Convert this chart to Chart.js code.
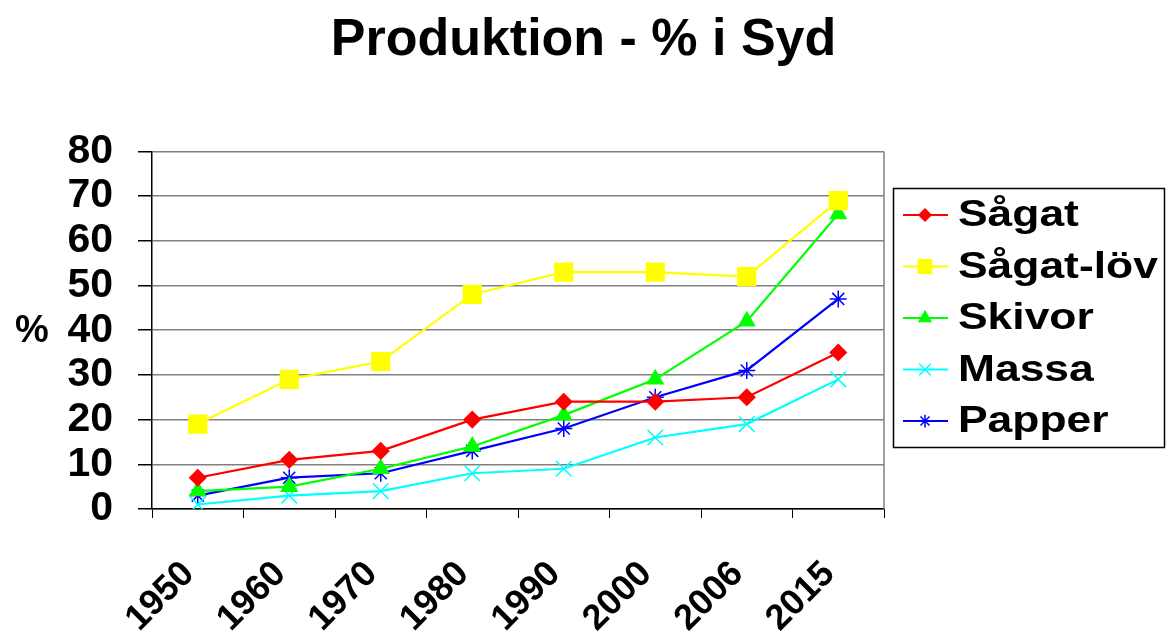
<!DOCTYPE html>
<html>
<head>
<meta charset="utf-8">
<script src="https://cdn.jsdelivr.net/npm/chart.js@4.4.1/dist/chart.umd.min.js"></script>
<style>
  html, body { margin: 0; padding: 0; background: #fff; }
  #wrap { width: 1167px; height: 632px; }
</style>
</head>
<body>
<div id="wrap"><canvas id="chart" width="1167" height="632"></canvas></div>
<script>
const years = ['1950', '1960', '1970', '1980', '1990', '2000', '2006', '2015'];
const sagat = [7, 11, 13, 20, 24, 24, 25, 35];
const sagatLov = [19, 29, 33, 48, 53, 53, 52, 69];
const skivor = [4, 5, 9, 14, 21, 29, 42, 66];
const massa = [1, 3, 4, 8, 9, 16, 19, 29];
const papper = [3, 7, 8, 13, 18, 25, 31, 47];
const yTicks = [0, 10, 20, 30, 40, 50, 60, 70, 80];

const FONT = "'Liberation Sans', Arial, sans-serif";

function series(label, data, color, style, radius) {
    return {
        label: label,
        data: data,
        borderColor: color,
        backgroundColor: color,
        pointBackgroundColor: color,
        pointBorderColor: color,
        pointStyle: style,
        pointRadius: radius,
        pointHoverRadius: radius,
        pointBorderWidth: 1.5,
        borderWidth: 2.2,
        tension: 0
    };
}

// legend with frame, "%" label and right edge of the plot
const extras = {
    id: 'extras',
    beforeDatasetsDraw(chart) {
        const a = chart.chartArea;
        const ctx = chart.ctx;
        ctx.save();
        ctx.strokeStyle = '#808080';
        ctx.lineWidth = 1.5;
        ctx.beginPath();
        ctx.moveTo(a.right, a.top);
        ctx.lineTo(a.right, a.bottom);
        ctx.stroke();
        ctx.restore();
    },
    afterDraw(chart) {
        const ctx = chart.ctx;
        ctx.save();
        ctx.fillStyle = '#000';
        ctx.font = 'bold 38px ' + FONT;
        ctx.textAlign = 'center';
        ctx.textBaseline = 'middle';
        ctx.fillText('%', 32, 332);

        ctx.strokeStyle = '#000';
        ctx.lineWidth = 1.5;
        ctx.strokeRect(893.5, 188.5, 271, 259);
        chart.data.datasets.forEach((ds, i) => {
            const y = 215 + i * 51.5;
            ctx.strokeStyle = ds.borderColor;
            ctx.fillStyle = ds.backgroundColor;
            ctx.lineWidth = 2;
            ctx.beginPath();
            ctx.moveTo(903, y);
            ctx.lineTo(948, y);
            ctx.stroke();
            ctx.lineWidth = ds.pointBorderWidth;
            Chart.helpers.drawPoint(ctx, {pointStyle: ds.pointStyle, rotation: 0, radius: ds.pointRadius * 0.75, borderWidth: ds.pointBorderWidth}, 925, y);
            ctx.save();
            ctx.fillStyle = '#000';
            ctx.font = 'bold 37px ' + FONT;
            ctx.textAlign = 'left';
            ctx.translate(958, y + 1);
            ctx.scale(1.2, 1);
            ctx.fillText(ds.label, 0, 0);
            ctx.restore();
        });
        ctx.restore();
    }
};

new Chart(document.getElementById('chart'), {
    type: 'line',
    data: {
        labels: years,
        datasets: [
            series('Sågat', sagat, '#ff0000', 'rectRot', 8),
            series('Sågat-löv', sagatLov, '#ffff00', 'rect', 12.5),
            series('Skivor', skivor, '#00ff00', 'triangle', 9),
            series('Massa', massa, '#00ffff', 'crossRot', 11),
            series('Papper', papper, '#0000ff', 'star', 8.5)
        ]
    },
    options: {
        responsive: false,
        devicePixelRatio: 1,
        animation: false,
        layout: { padding: 0 },
        plugins: {
            legend: { display: false },
            tooltip: { enabled: false },
            title: {
                display: true,
                text: 'Produktion - % i Syd',
                color: '#000',
                font: { family: FONT, size: 52, weight: 'bold', lineHeight: 1.2 },
                padding: { top: 9, bottom: 80 }
            }
        },
        scales: {
            x: {
                type: 'category',
                offset: true,
                afterFit(scale) { scale.height = 123; },
                grid: {
                    offset: true,
                    drawOnChartArea: false,
                    drawTicks: true,
                    tickLength: 9,
                    color: '#000'
                },
                border: { color: '#000', width: 1.5 },
                ticks: {
                    color: '#000',
                    minRotation: 45,
                    maxRotation: 45,
                    autoSkip: false,
                    padding: 35,
                    labelOffset: -9,
                    font: { family: FONT, size: 36, weight: 'bold' }
                }
            },
            y: {
                min: 0,
                max: 80,
                afterFit(scale) { scale.width = 152; },
                afterBuildTicks(scale) { scale.ticks = yTicks.map(v => ({ value: v })); },
                grid: {
                    color: '#808080',
                    lineWidth: 1.5,
                    tickLength: 14,
                    tickColor: '#000'
                },
                border: { color: '#000', width: 1.5 },
                ticks: {
                    color: '#000',
                    autoSkip: false,
                    padding: 25,
                    font: { family: FONT, size: 41, weight: 'bold' }
                }
            },
            // empty right-hand axis: keeps room for the legend so the title centres on the page
            y2: {
                position: 'right',
                afterFit(scale) { scale.width = 283; },
                grid: { display: false },
                border: { display: false },
                ticks: { display: false }
            }
        }
    },
    plugins: [extras]
});
</script>
</body>
</html>
